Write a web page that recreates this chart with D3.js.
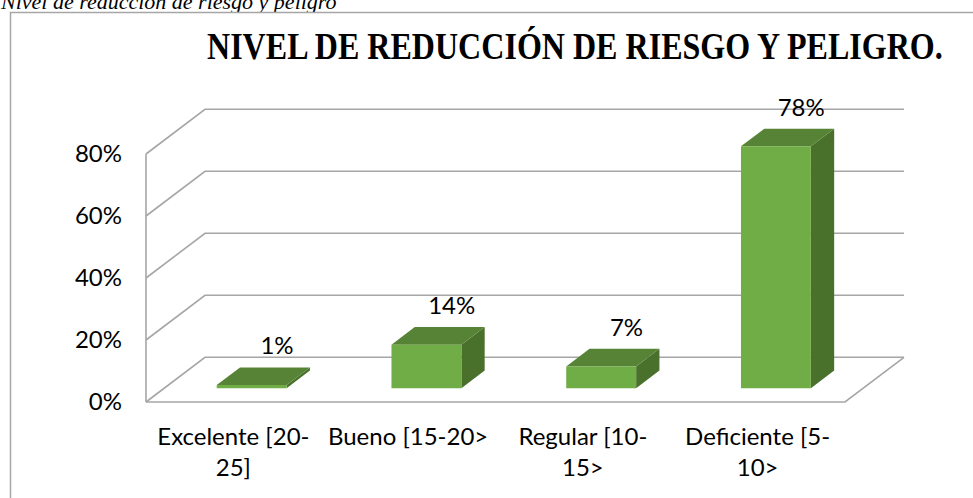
<!DOCTYPE html>
<html><head><meta charset="utf-8">
<script src="https://cdn.jsdelivr.net/npm/d3@7/dist/d3.min.js"></script>
<style>
html,body{margin:0;padding:0;background:#fff;}
svg{display:block;}
</style></head>
<body>
<svg id="c" width="973" height="498"></svg>
<script>
// ---- data ----
const caption = "Nivel de reducción de riesgo y peligro";
const chartTitle = "NIVEL DE REDUCCIÓN DE RIESGO Y PELIGRO.";
const categories = ["Excelente [20-25]", "Bueno [15-20>", "Regular [10-15>", "Deficiente [5-10>"];
const categoryLines = [["Excelente [20-", "25]"], ["Bueno [15-20>"], ["Regular [10-", "15>"], ["Deficiente [5-", "10>"]];
const values = [0.01, 0.14, 0.07, 0.78];
const valueLabels = ["1%", "14%", "7%", "78%"];
const yTicks = [0, 0.2, 0.4, 0.6, 0.8];

// ---- layout ----
const svg = d3.select("#c");
const FRONT_L = 146, FRONT_R = 845, FLOOR_Y = 402, TOP_Y = 154;
const DX = 59, DY = 44.7;            // depth offset of back wall
const Z0 = 0.31, Z1 = 0.705;         // bar depth range
const gridColor = "#a6a6a6";
const font = "Lato, 'Open Sans', sans-serif";
const FS = 24;

const x = d3.scaleBand().domain(categories).range([FRONT_L, FRONT_R]).padding(0);
const y = d3.scaleLinear().domain([0, 0.8]).range([FLOOR_Y, TOP_Y]);
const P = (px, v, z) => [px + z * DX, y(v) - z * DY];

// caption (cut at top)
svg.append("text").attr("x", 1).attr("y", 9)
  .attr("font-family", "'Liberation Serif', 'Times New Roman', serif")
  .attr("font-style", "italic").attr("font-size", 22).attr("fill", "#000")
  .text(caption);

// chart border
svg.append("rect").attr("x", 10.5).attr("y", 12.5).attr("width", 1000).attr("height", 600)
  .attr("fill", "#fff").attr("stroke", "#a6a6a6").attr("stroke-width", 1.5);

// title (condensed to its width)
const title = svg.append("text")
  .attr("font-family", "'Liberation Serif', 'Times New Roman', serif")
  .attr("font-weight", "bold").attr("font-size", 37).attr("fill", "#000")
  .text(chartTitle);
const tw = title.node().getComputedTextLength();
title.attr("transform", `translate(207,59) scale(${736 / tw},1)`);

// grid: back wall + side wall
const g = svg.append("g").attr("fill", "none").attr("stroke", gridColor).attr("stroke-width", 1.6);
yTicks.forEach(t => {
  const a = P(FRONT_L, t, 0), b = P(FRONT_L, t, 1), c = P(FRONT_R, t, 1);
  g.append("polyline").attr("points", [a, b, c].map(p => p.join(",")).join(" "));
});
// vertical axis (front-left)
g.append("line").attr("x1", FRONT_L).attr("x2", FRONT_L).attr("y1", y(0)).attr("y2", y(0.8));
// floor front + right edge
{
  const a = P(FRONT_L, 0, 0), b = P(FRONT_R, 0, 0), c = P(FRONT_R, 0, 1);
  g.append("polyline").attr("points", [a, b, c].map(p => p.join(",")).join(" "));
}

// y tick labels
svg.append("g").selectAll("text").data(yTicks).join("text")
  .attr("x", 122).attr("y", d => y(d)).attr("dy", "0.35em")
  .attr("text-anchor", "end").attr("font-family", font).attr("font-size", FS).attr("fill", "#000")
  .text(d => d3.format(".0%")(d));

// bars
const bars = svg.append("g");
categories.forEach((cat, i) => {
  const v = values[i];
  const cx = x(cat) + x.bandwidth() / 2;
  const hw = x.bandwidth() * 0.2;
  const xl = cx - hw, xr = cx + hw;
  const pts = arr => arr.map(p => p.join(",")).join(" ");
  // side
  bars.append("polygon").attr("fill", "#4a712b")
    .attr("points", pts([P(xr, 0, Z0), P(xr, 0, Z1), P(xr, v, Z1), P(xr, v, Z0)]));
  // top
  bars.append("polygon").attr("fill", "#568336")
    .attr("points", pts([P(xl, v, Z0), P(xr, v, Z0), P(xr, v, Z1), P(xl, v, Z1)]));
  // front
  bars.append("polygon").attr("fill", "#70ad47")
    .attr("points", pts([P(xl, 0, Z0), P(xr, 0, Z0), P(xr, v, Z0), P(xl, v, Z0)]));
  // value label
  const lp = P(cx, v, Z1);
  svg.append("text").attr("x", lp[0] + 2).attr("y", lp[1] - 21.5).attr("dy", "0.35em")
    .attr("text-anchor", "middle").attr("font-family", font).attr("font-size", FS).attr("fill", "#000")
    .text(valueLabels[i]);
});

// category labels
categories.forEach((cat, i) => {
  const cx = x(cat) + x.bandwidth() / 2;
  const t = svg.append("text").attr("text-anchor", "middle")
    .attr("font-family", font).attr("font-size", FS).attr("fill", "#000");
  categoryLines[i].forEach((ln, k) => {
    t.append("tspan").attr("x", cx).attr("y", 437 + k * 31).attr("dy", "0.35em").text(ln);
  });
});
</script>
</body></html>
